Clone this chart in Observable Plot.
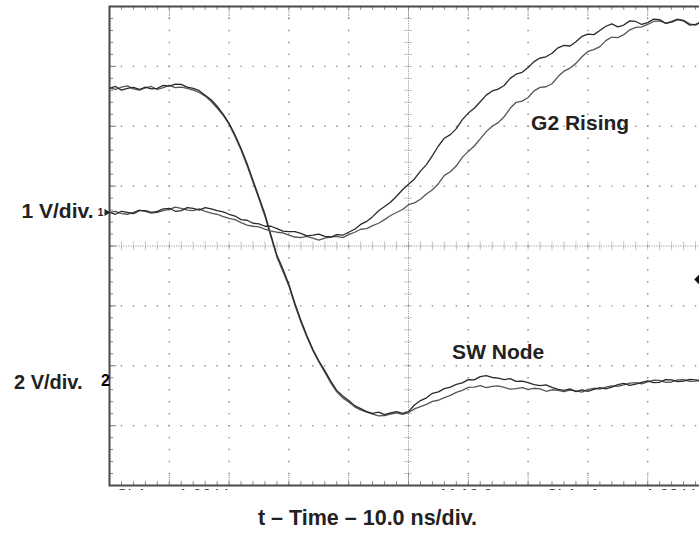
<!DOCTYPE html>
<html>
<head>
<meta charset="utf-8">
<script src="https://cdn.jsdelivr.net/npm/d3@7"></script>
<script src="https://cdn.jsdelivr.net/npm/@observablehq/plot@0.6"></script>
<style>
html, body { margin: 0; padding: 0; background: #fff; overflow: hidden; }
#wrap { width: 699px; height: 537px; overflow: hidden; position: relative; }
#wrap svg { max-width: none !important; display: block; }
</style>
</head>
<body>
<div id="wrap"></div>
<script>
// ---- sample times (ns), 10 ns/div, 10 divisions ----
const timeNs = [0,1,2,3,4,5,6,7,8,9,10,11,12,13,14,15,16,17,18,19,20,
  21,22,23,24,25,26,27,28,29,30,31,32,33,34,35,36,37,38,39,40,
  41,42,43,44,45,46,47,48,49,50,51,52,53,54,55,56,57,58,59,60,
  61,62,63,64,65,66,67,68,69,70,71,72,73,74,75,76,77,78,79,80,
  81,82,83,84,85,86,87,88,89,90,91,92,93,94,95,96,97,98,99,100];

// ---- SW node, channel 2 (volts), two acquisitions ----
const swNodeA = [9.76,9.82,9.70,9.76,9.79,9.72,9.80,9.74,9.76,9.86,9.83,
  9.90,9.89,9.80,9.76,9.68,9.53,9.38,9.16,8.90,8.59,
  8.20,7.75,7.25,6.68,6.12,5.55,4.85,4.18,3.72,3.21,
  2.58,2.01,1.50,1.04,0.66,0.33,-0.02,-0.33,-0.52,-0.67,
  -0.84,-0.94,-1.04,-1.10,-1.06,-1.14,-1.08,-1.04,-1.10,-1.04,
  -0.82,-0.67,-0.58,-0.43,-0.38,-0.27,-0.22,-0.13,-0.08,0.03,
  0.02,0.13,0.16,0.10,0.08,0.03,0.06,-0.03,-0.02,-0.07,
  -0.14,-0.17,-0.15,-0.23,-0.30,-0.33,-0.28,-0.37,-0.31,-0.36,
  -0.30,-0.24,-0.28,-0.22,-0.14,-0.10,-0.16,-0.12,-0.06,-0.01,
  -0.07,-0.06,0.03,0.02,-0.04,-0.02,0.04,0.02,-0.03,-0.01];
const swNodeB = [9.78,9.72,9.80,9.84,9.74,9.70,9.77,9.82,9.72,9.78,9.86,
  9.78,9.80,9.76,9.70,9.62,9.50,9.32,9.10,8.86,8.55,
  8.14,7.70,7.18,6.62,6.06,5.48,4.80,4.12,3.64,3.15,
  2.52,1.95,1.45,1.00,0.62,0.28,-0.08,-0.38,-0.58,-0.72,
  -0.88,-0.98,-1.06,-1.12,-1.18,-1.17,-1.12,-1.08,-1.13,-1.07,
  -0.95,-0.87,-0.80,-0.70,-0.66,-0.57,-0.50,-0.40,-0.33,-0.23,
  -0.22,-0.17,-0.24,-0.20,-0.18,-0.23,-0.29,-0.27,-0.24,-0.30,
  -0.26,-0.28,-0.36,-0.31,-0.33,-0.37,-0.32,-0.35,-0.39,-0.30,
  -0.26,-0.29,-0.22,-0.18,-0.20,-0.15,-0.09,-0.07,-0.11,-0.05,
  0.01,0.00,-0.06,-0.05,0.02,0.03,-0.03,-0.02,0.03,0.01];

// ---- G2 gate, channel 1 (volts), two acquisitions ----
const g2RisingA = [0.00,-0.03,0.02,0.00,-0.02,0.03,0.03,0.00,0.02,0.06,0.07,
  0.02,0.03,0.08,0.07,0.04,0.08,0.06,0.03,0.01,-0.03,
  -0.06,-0.12,-0.13,-0.18,-0.19,-0.23,-0.23,-0.27,-0.31,-0.32,
  -0.32,-0.35,-0.39,-0.38,-0.36,-0.40,-0.41,-0.37,-0.38,-0.33,
  -0.28,-0.20,-0.15,-0.07,0.03,0.10,0.17,0.27,0.38,0.47,
  0.56,0.69,0.80,0.95,1.11,1.24,1.30,1.40,1.55,1.66,
  1.74,1.85,1.96,2.03,2.06,2.12,2.24,2.31,2.34,2.42,
  2.52,2.58,2.60,2.66,2.75,2.79,2.78,2.85,2.94,2.98,
  2.97,3.04,3.11,3.15,3.10,3.13,3.20,3.19,3.14,3.17,
  3.23,3.22,3.16,3.18,3.22,3.20,3.13,3.14,3.19,3.16];
const g2RisingB = [0.00,0.02,-0.02,-0.03,0.00,0.04,0.02,-0.01,0.00,0.03,0.05,
  0.09,0.07,0.04,0.03,0.06,0.02,-0.01,-0.03,-0.07,-0.10,
  -0.12,-0.17,-0.21,-0.23,-0.24,-0.28,-0.31,-0.33,-0.34,-0.38,
  -0.41,-0.42,-0.40,-0.43,-0.46,-0.43,-0.41,-0.40,-0.42,-0.37,
  -0.33,-0.28,-0.27,-0.22,-0.18,-0.12,-0.05,0.00,0.05,0.13,
  0.16,0.22,0.31,0.38,0.48,0.62,0.68,0.78,0.92,1.02,
  1.11,1.23,1.35,1.44,1.50,1.60,1.74,1.84,1.86,1.92,
  2.03,2.09,2.10,2.15,2.27,2.36,2.41,2.49,2.60,2.69,
  2.72,2.77,2.87,2.93,2.92,2.97,3.05,3.09,3.10,3.14,
  3.19,3.20,3.16,3.19,3.23,3.21,3.15,3.13,3.18,3.17];

// ---- channel settings ----
const channelNames = ["1", "2"];
const voltsPerDiv = [1, 2];          // CH1 1 V/div, CH2 2 V/div
const groundDiv = [0.56, -2.246];    // ground markers, divisions from centre
const triggerDiv = -0.56;            // trigger-level marker
const statusItems = ["Ch1", "1.00 V", "M 10.0ns", "Ch1", "ƒ", "1.08 V"];

// ---- graticule ----
const xMajor = d3.range(0, 101, 10);
const xMinor = d3.range(0, 101, 2);
const yMajor = d3.range(-4, 4.001, 1);
const yMinor = d3.range(-20, 21).map(k => k / 5);

const toDiv = (v, c) => groundDiv[c] + v / voltsPerDiv[c];
const trace = (vals, c) => timeNs.map((t, i) => ({t, y: toDiv(vals[i], c)}));

const gridDots = [];
for (const xv of xMajor) if (xv > 0 && xv < 100 && xv !== 50)
  for (const yv of yMinor) if (yv > -4 && yv < 4) gridDots.push({x: xv, y: yv});
for (const yv of yMajor) if (yv > -4 && yv < 4 && yv !== 0)
  for (const xv of xMinor) if (xv > 0 && xv < 100) gridDots.push({x: xv, y: yv});

const font = "Liberation Sans, Arial, Helvetica, sans-serif";
const grid = "#8a8a8a";

const chart = Plot.plot({
  width: 708, height: 537,
  marginLeft: 109, marginRight: 1, marginTop: 6, marginBottom: 52,
  x: {domain: [0, 100], axis: null},
  y: {domain: [-4, 4], axis: null},
  marks: [
    // scope status line (mostly hidden below the graticule)
    Plot.text(statusItems, {
      x: [1.0, 11.5, 55.4, 72.9, 80.1, 89.6], y: -4, dy: 10,
      text: d => d, textAnchor: "start", fontFamily: font, fontSize: 17, fill: "#333"
    }),
    // dotted grid
    Plot.dot(gridDots, {x: "x", y: "y", symbol: "square", r: 0.8, fill: grid, stroke: null}),
    // centre lines
    Plot.ruleX([50], {stroke: grid, strokeDasharray: "1,1.4", strokeWidth: 1}),
    Plot.ruleY([0], {stroke: grid, strokeDasharray: "1,1.4", strokeWidth: 1}),
    Plot.ruleX(xMinor, {x: d => d, y1: -0.07, y2: 0.07, stroke: grid, strokeDasharray: "1,1"}),
    Plot.ruleY(yMinor, {y: d => d, x1: 49.4, x2: 50.6, stroke: grid, strokeDasharray: "1,1"}),
    // border ticks
    Plot.ruleX(xMinor, {x: d => d, y1: 4, y2: 3.935, stroke: grid}),
    Plot.ruleX(xMinor, {x: d => d, y1: -4, y2: -3.935, stroke: grid}),
    Plot.ruleX(xMajor, {x: d => d, y1: 4, y2: 3.8, stroke: grid, strokeDasharray: "1.2,1"}),
    Plot.ruleX(xMajor, {x: d => d, y1: -4, y2: -3.8, stroke: grid, strokeDasharray: "1.2,1"}),
    Plot.ruleY(yMinor, {y: d => d, x1: 0, x2: 0.7, stroke: grid}),
    Plot.ruleY(yMajor, {y: d => d, x1: 0, x2: 1.2, stroke: grid}),
    // traces
    Plot.line(trace(swNodeB, 1), {x: "t", y: "y", stroke: "#555", strokeWidth: 1.3}),
    Plot.line(trace(swNodeA, 1), {x: "t", y: "y", stroke: "#2a2a2a", strokeWidth: 1.3}),
    Plot.line(trace(g2RisingB, 0), {x: "t", y: "y", stroke: "#555", strokeWidth: 1.3}),
    Plot.line(trace(g2RisingA, 0), {x: "t", y: "y", stroke: "#2a2a2a", strokeWidth: 1.3}),
    // frame
    Plot.frame({stroke: "#4a4a4a", strokeWidth: 2}),
    // trace labels
    Plot.text(["G2 Rising"], {x: 78.7, y: 2.05, text: d => d, fontFamily: font, fontWeight: "bold", fontSize: 21, fill: "#222"}),
    Plot.text(["SW Node"], {x: 65.0, y: -1.77, text: d => d, fontFamily: font, fontWeight: "bold", fontSize: 21, fill: "#222"}),
    // channel scale labels
    Plot.text([0], {x: 0, y: groundDiv[0] + 0.02, dx: -16, text: () => voltsPerDiv[0] + " V/div.", textAnchor: "end", fontFamily: font, fontWeight: "bold", fontSize: 21, fill: "#222"}),
    Plot.text([1], {x: 0, y: groundDiv[1] - 0.03, dx: -27, text: () => voltsPerDiv[1] + " V/div.", textAnchor: "end", fontFamily: font, fontWeight: "bold", fontSize: 20, fill: "#222"}),
    // ground markers
    Plot.text([0], {x: 0, y: groundDiv[0], dx: -9, text: () => channelNames[0], fontFamily: font, fontWeight: "bold", fontSize: 10, fill: "#222"}),
    Plot.dot([0], {x: 0, y: groundDiv[0], dx: -3, symbol: "triangle", rotate: 90, r: 2.6, fill: "#222", stroke: null}),
    Plot.text([1], {x: 0, y: groundDiv[1], dx: -4, text: () => channelNames[1], fontFamily: font, fontWeight: "900", fontSize: 16, fill: "#000"}),
    // trigger marker
    Plot.dot([triggerDiv], {x: 98.7, y: d => d, symbol: "diamond2", r: 5, fill: "#111", stroke: null}),
    // x label
    Plot.text(["t – Time – 10.0 ns/div."], {frameAnchor: "bottom", dx: -41, dy: 39, text: d => d, fontFamily: font, fontWeight: "bold", fontSize: 21.5, fill: "#222"})
  ]
});

chart.style.maxWidth = "none";
document.getElementById("wrap").appendChild(chart);

// the scan is cut just under the graticule: only the tops of the status line show
const yBottom = chart.scale("y").apply(-4);
d3.select(chart).append("rect")
  .attr("x", 0).attr("y", yBottom + 5).attr("width", 708).attr("height", 17)
  .attr("fill", "#fff");
</script>
</body>
</html>
